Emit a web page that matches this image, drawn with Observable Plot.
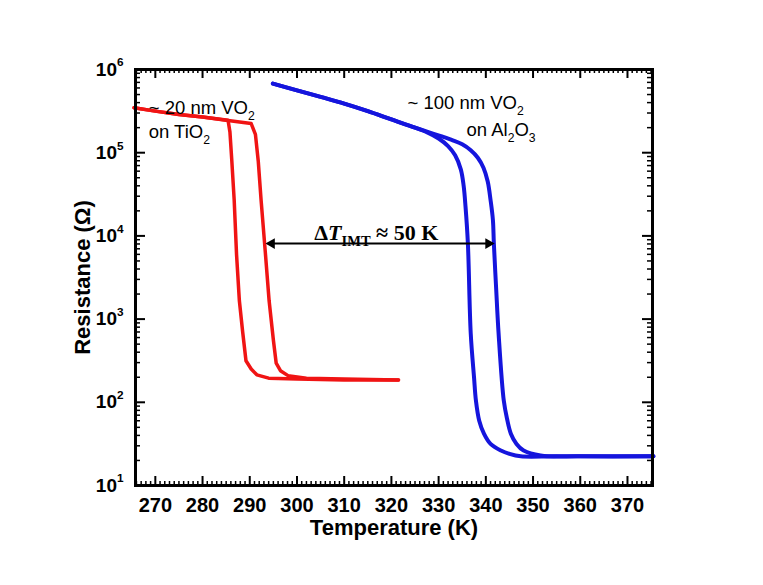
<!DOCTYPE html>
<html>
<head>
<meta charset="utf-8">
<script src="https://cdn.jsdelivr.net/npm/d3@7"></script>
<script src="https://cdn.jsdelivr.net/npm/@observablehq/plot@0.6"></script>
<style>
  html, body { margin: 0; padding: 0; background: #fff; }
  #chart { width: 763px; height: 585px; }
</style>
</head>
<body>
<div id="chart"></div>
<script>
// ---------- data (T in K, R in ohm) ----------
// ~20 nm VO2 on TiO2 — heating branch (outer)
const redHeatT = [265.5, 270, 275, 280, 285, 290.3, 291.2, 291.8, 292.4, 293.3, 294.1, 295.0, 295.6, 296.5, 298.1, 302, 310, 321.5];
const redHeatR = [347000, 316000, 288000, 269000, 245000, 224000, 166000, 79000, 27000, 6300, 1660, 560, 295, 240, 209, 195, 191, 186];
// ~20 nm VO2 on TiO2 — cooling branch (inner)
const redCoolT = [265.5, 270, 275, 280, 285.4, 285.8, 286.2, 286.7, 287.2, 287.8, 288.5, 289.2, 290.3, 291.5, 294, 300, 310, 321.5];
const redCoolR = [347000, 316000, 288000, 269000, 245000, 178000, 80000, 27000, 6000, 1660, 700, 316, 251, 214, 195, 191, 186, 186];
// ~100 nm VO2 on Al2O3 — heating branch (outer)
const blueHeatT = [294.9, 300, 305, 310, 315, 320, 325, 327.7, 330.5, 333, 335, 336.8, 338.3, 339.5, 340.4, 341.0, 341.5, 341.7, 342.2, 342.7, 343.8, 344.5, 345.3, 346.5, 348.0, 351.6, 360, 375.5];
const blueHeatR = [676000, 562000, 468000, 389000, 316000, 251000, 200000, 178000, 158000, 141000, 126000, 107000, 87000, 66000, 45000, 27000, 15500, 8100, 2240, 676, 105, 63, 42, 31.6, 26.3, 22.9, 22.4, 22.4];
// ~100 nm VO2 on Al2O3 — cooling branch (inner)
const blueCoolT = [294.9, 300, 305, 310, 315, 320, 325, 327.7, 330, 332, 333.5, 334.7, 335.3, 335.7, 336.2, 336.8, 337.5, 337.9, 338.6, 339.6, 341.0, 343.2, 345.0, 347.4, 355, 375.5];
const blueCoolR = [676000, 562000, 468000, 389000, 316000, 251000, 200000, 174000, 148000, 120000, 93000, 63000, 40000, 22400, 8100, 676, 200, 105, 60, 42, 31.6, 26.3, 24, 22.4, 22.4, 22.4];

// ΔT_IMT arrow (between the two heating transitions)
const arrowT = [293.8, 341.4];
const arrowR = 8100;

// annotations
const labels = [
  {text: "~ 20 nm VO_{2}", T: 268.6, R: 340000},
  {text: "on TiO_{2}", T: 268.6, R: 175000},
  {text: "~ 100 nm VO_{2}", T: 323.4, R: 390000},
  {text: "on Al_{2}O_{3}", T: 335.9, R: 185000}
];
const deltaLabel = {text: "Δ*T*_{IMT} ≈ 50 K", T: 316.8, R: 11000};

// axes
const xDomain = [265.8, 375.3];
const yDomain = [10, 1e6];
const xMajor = [270, 280, 290, 300, 310, 320, 330, 340, 350, 360, 370];
const xMinor = d3.range(266, 376).filter(t => t % 10 !== 0);
const yMajor = [10, 100, 1000, 10000, 100000, 1000000];
const yMinor = [1, 2, 3, 4, 5].flatMap(e => [2, 3, 4, 5, 6, 7, 8, 9].map(k => k * 10 ** e));
const xTitle = "Temperature (K)";
const yTitle = "Resistance (Ω)";

// ---------- build ----------
const zip = (T, R) => T.map((t, i) => ({T: t, R: R[i]}));
const RED = "#f01414", BLUE = "#1515dd";
const W = 763, H = 585, mL = 135, mR = 111, mT = 69, mB = 100;
const iw = W - mL - mR, ih = H - mT - mB;

const plot = Plot.plot({
  width: W, height: H,
  marginLeft: mL, marginRight: mR, marginTop: mT, marginBottom: mB,
  style: {fontFamily: "'Liberation Sans', Arial, sans-serif", background: "white", color: "black", overflow: "visible"},
  x: {domain: xDomain},
  y: {type: "log", domain: yDomain},
  marks: [
    // inward minor/major ticks on all four sides
    Plot.tickX(xMinor, {x: d => d, insetTop: ih - 4, stroke: "black", strokeWidth: 1.5}),
    Plot.tickX(xMinor, {x: d => d, insetBottom: ih - 4, stroke: "black", strokeWidth: 1.5}),
    Plot.tickX(xMajor, {x: d => d, insetTop: ih - 9, stroke: "black", strokeWidth: 2}),
    Plot.tickX(xMajor, {x: d => d, insetBottom: ih - 9, stroke: "black", strokeWidth: 2}),
    Plot.tickY(yMinor, {y: d => d, insetRight: iw - 5, stroke: "black", strokeWidth: 1.5}),
    Plot.tickY(yMinor, {y: d => d, insetLeft: iw - 5, stroke: "black", strokeWidth: 1.5}),
    Plot.tickY(yMajor, {y: d => d, insetRight: iw - 10, stroke: "black", strokeWidth: 2}),
    Plot.tickY(yMajor, {y: d => d, insetLeft: iw - 10, stroke: "black", strokeWidth: 2}),
    // curves
    Plot.line(zip(redHeatT, redHeatR), {x: "T", y: "R", stroke: RED, strokeWidth: 3.5}),
    Plot.line(zip(redCoolT, redCoolR), {x: "T", y: "R", stroke: RED, strokeWidth: 3.5}),
    Plot.line(zip(blueHeatT, blueHeatR), {x: "T", y: "R", stroke: BLUE, strokeWidth: 4, curve: "catmull-rom"}),
    Plot.line(zip(blueCoolT, blueCoolR), {x: "T", y: "R", stroke: BLUE, strokeWidth: 4, curve: "catmull-rom"}),
    // double-headed arrow with filled heads
    Plot.link([0], {x1: () => arrowT[0], x2: () => arrowT[1], y1: () => arrowR, y2: () => arrowR,
      stroke: "black", strokeWidth: 1.8}),
    Plot.dot([arrowT[0]], {x: d => d, y: () => arrowR, symbol: "triangle", r: 4,
      rotate: -90, dx: 4, fill: "black", stroke: "none"}),
    Plot.dot([arrowT[1]], {x: d => d, y: () => arrowR, symbol: "triangle", r: 4,
      rotate: 90, dx: -4, fill: "black", stroke: "none"}),
    Plot.text([deltaLabel], {x: "T", y: "R", text: "text", fontSize: 22, fontWeight: "bold",
      fontFamily: "'Liberation Serif', 'Times New Roman', serif", textAnchor: "middle"}),
    Plot.text(labels, {x: "T", y: "R", text: "text", fontSize: 18.5, textAnchor: "start"}),
    // frame
    Plot.frame({stroke: "black", strokeWidth: 3}),
    // axes (labels only; ticks drawn inward above)
    Plot.axisX(xMajor, {tickSize: 0, tickPadding: 12, label: null}),
    Plot.axisY(yMajor, {tickSize: 0, tickPadding: 12, label: null,
      tickFormat: d => `10^{${Math.round(Math.log10(d))}}`}),
    // axis titles
    Plot.text([xTitle], {frameAnchor: "bottom", dy: 42, text: d => d, fontSize: 22, fontWeight: "bold",
      textAnchor: "middle", lineAnchor: "middle"}),
    Plot.text([yTitle], {frameAnchor: "left", dx: -53, rotate: -90, text: d => d, fontSize: 22, fontWeight: "bold",
      textAnchor: "middle", lineAnchor: "middle"})
  ]
});

document.getElementById("chart").appendChild(plot);

const svg = d3.select(plot);
svg.selectAll('g[aria-label="x-axis tick label"]').attr("font-size", 20).attr("font-weight", "bold");
svg.selectAll('g[aria-label="y-axis tick label"]').attr("font-size", 19).attr("font-weight", "bold");

// rich text: _{sub}, ^{sup}, *italic*
function richify(el) {
  const s = el.textContent;
  if (!/(_\{|\^\{|\*)/.test(s)) return;
  const fs = parseFloat(getComputedStyle(el).fontSize) || 16;
  const parts = s.split(/(_\{[^}]*\}|\^\{[^}]*\}|\*[^*]*\*)/).filter(p => p);
  while (el.firstChild) el.removeChild(el.firstChild);
  let off = 0;
  for (const p of parts) {
    const t = document.createElementNS("http://www.w3.org/2000/svg", "tspan");
    let target = 0, txt = p;
    if (p.startsWith("_{")) { target = 0.3 * fs; txt = p.slice(2, -1); t.setAttribute("font-size", 0.66 * fs); }
    else if (p.startsWith("^{")) { target = -0.48 * fs; txt = p.slice(2, -1); t.setAttribute("font-size", 0.62 * fs); }
    else if (p.startsWith("*")) { txt = p.slice(1, -1); t.setAttribute("font-style", "italic"); }
    if (target !== off) { t.setAttribute("dy", target - off); off = target; }
    t.textContent = txt;
    el.appendChild(t);
  }
}
svg.selectAll("text").each(function() { richify(this); });
</script>
</body>
</html>
